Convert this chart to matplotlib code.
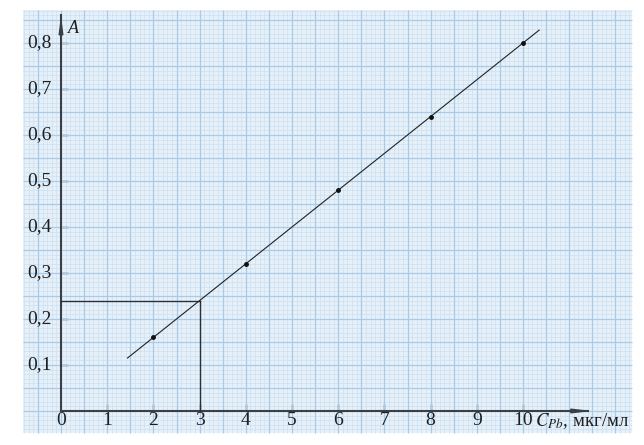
import numpy as np
import matplotlib
matplotlib.use("Agg")
import matplotlib.pyplot as plt
from matplotlib.patches import Rectangle

# Data
conc = [2, 4, 6, 8, 10]              # C_Pb, мкг/мл
absorb = [0.16, 0.32, 0.48, 0.64, 0.80]
fit_x = [1.44, 10.35]
fit_slope = 0.08
x_ticks = [0, 1, 2, 3, 4, 5, 6, 7, 8, 9, 10]
x_ticklabels = ["0", "1", "2", "3", "4", "5", "6", "7", "8", "9", "10"]
y_ticks = [0.1, 0.2, 0.3, 0.4, 0.5, 0.6, 0.7, 0.8]
y_ticklabels = ["0,1", "0,2", "0,3", "0,4", "0,5", "0,6", "0,7", "0,8"]
sample_x = 3
sample_y = 0.24

fig = plt.figure(figsize=(6.44, 4.45), dpi=100)
ax = fig.add_axes([0, 0, 1, 1])
ux = 46.2   # px per x unit
uy = 460.0  # px per y unit
ax.set_xlim(-61 / ux, (644 - 61) / ux)
ax.set_ylim(-34 / uy, (445 - 34) / uy)
ax.patch.set_alpha(0)

# graph paper
px0, px1 = -0.82, 12.36
py0, py1 = -0.048, 0.872
ax.add_patch(Rectangle((px0, py0), px1 - px0, py1 - py0, facecolor="#e6f0f9",
                       edgecolor="none", zorder=0))
xs = np.round(np.arange(-0.8, 12.36, 0.1), 6)
ys = np.round(np.arange(-0.04, 0.872, 0.01), 6)
minor_x = [v for v in xs if abs(v * 2 - round(v * 2)) > 1e-6]
major_x = [v for v in xs if abs(v * 2 - round(v * 2)) <= 1e-6]
minor_y = [v for v in ys if abs(v * 20 - round(v * 20)) > 1e-6]
major_y = [v for v in ys if abs(v * 20 - round(v * 20)) <= 1e-6]
ax.vlines(minor_x, py0, py1, colors="#cde0f1", lw=0.5, zorder=1)
ax.hlines(minor_y, px0, px1, colors="#cde0f1", lw=0.5, zorder=1)
ax.vlines(major_x, py0, py1, colors="#a8cbe8", lw=0.9, zorder=2)
ax.hlines(major_y, px0, px1, colors="#a8cbe8", lw=0.9, zorder=2)

# axes spines
for s in ["top", "right"]:
    ax.spines[s].set_visible(False)
ax.spines["left"].set_position(("data", 0))
ax.spines["bottom"].set_position(("data", 0))
ax.spines["left"].set_bounds(0, 0.86)
ax.spines["bottom"].set_bounds(0, 11.4)
for s in ["left", "bottom"]:
    ax.spines[s].set_color("#3a3f45")
    ax.spines[s].set_linewidth(1.5)
    ax.spines[s].set_zorder(5)

ax.set_xticks(x_ticks[1:])
ax.set_xticklabels([])
ax.set_yticks(y_ticks)
ax.set_yticklabels([])
ax.tick_params(axis="both", direction="in", length=5, width=1.0, color="#3a3f45")

serif = "Liberation Serif"
for xv, lab in zip(x_ticks, x_ticklabels):
    ax.text(xv, -0.021, lab, ha="center", va="center", fontsize=14,
            family=serif, color="#1e1e1e")
for yv, lab in zip(y_ticks, y_ticklabels):
    ax.text(-0.2, yv, lab, ha="right", va="center", fontsize=14,
            family=serif, color="#1e1e1e")

# arrows
ax.annotate("", xy=(0, 0.865), xytext=(0, 0.80),
            arrowprops=dict(arrowstyle="-|>,head_length=0.9,head_width=0.12",
                            color="#3a3f45", lw=1.2), zorder=6)
ax.annotate("", xy=(11.55, 0), xytext=(11.0, 0),
            arrowprops=dict(arrowstyle="-|>,head_length=1.0,head_width=0.12",
                            color="#3a3f45", lw=1.2), zorder=6)

ax.text(0.15, 0.832, "A", fontsize=13, family=serif, style="italic",
        ha="left", va="center", color="#1e1e1e")
ax.text(10.25, -0.021, r"$C_{Pb}$, мкг/мл", fontsize=13.5, family=serif,
        ha="left", va="center", color="#1e1e1e", math_fontfamily="stix")

# calibration line
fx = np.array(fit_x)
ax.plot(fx, fit_slope * fx, color="#222222", lw=0.8, zorder=7)
ax.plot(conc, absorb, "o", color="#111111", ms=2.5, zorder=8)

# reading lines
ax.plot([0, sample_x], [sample_y, sample_y], color="#2a2f35", lw=1.0, zorder=6)
ax.plot([sample_x, sample_x], [0, sample_y], color="#2a2f35", lw=1.0, zorder=6)

fig.savefig("out.png", dpi=100, facecolor="white")
